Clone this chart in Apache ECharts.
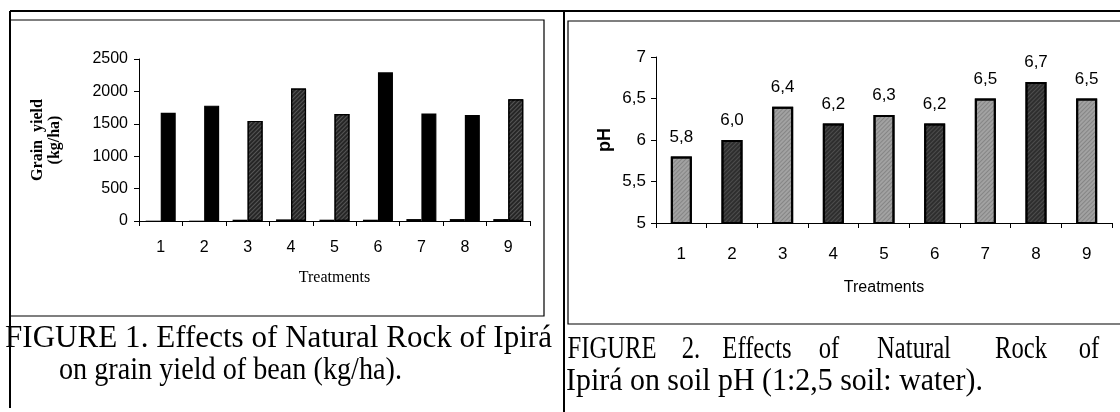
<!DOCTYPE html>
<html>
<head>
<meta charset="utf-8">
<script src="https://cdn.jsdelivr.net/npm/echarts@6/dist/echarts.min.js"></script>
<style>
html, body { margin: 0; background: #fff; }
#main { width: 1120px; height: 412px; }
</style>
</head>
<body>
<div id="main"></div>
<script>
// data
const treatments = ['1', '2', '3', '4', '5', '6', '7', '8', '9'];
const yieldSmall = [5, 5, 20, 25, 20, 20, 30, 30, 30];
const grainYield = [1670, 1780, 1545, 2045, 1650, 2295, 1660, 1635, 1880];
const soilPH = [5.8, 6.0, 6.4, 6.2, 6.3, 6.2, 6.5, 6.7, 6.5];

const caption1 = ['FIGURE 1. Effects of Natural Rock of Ipirá', 'on grain yield of bean (kg/ha).'];
const caption2 = ['FIGURE 2. Effects of Natural Rock of', 'Ipirá on soil pH (1:2,5 soil: water).'];

const sans = '"Liberation Sans", Arial, sans-serif';
const serif = '"Liberation Serif", "Times New Roman", serif';
const capFont = '28px "Liberation Serif"';

// hatched look for the grey bars
function hatch(c) {
    return {
        symbol: 'rect',
        symbolSize: 1,
        dashArrayX: [1, 0],
        dashArrayY: [1, 2],
        rotation: -Math.PI / 4,
        color: c
    };
}

let yieldData = grainYield.map((v, i) => {
    let grey = [2, 3, 4, 8].indexOf(i) >= 0;
    return {
        value: v,
        itemStyle: grey ? { color: '#262626', decal: hatch('rgba(255,255,255,0.22)') } : { color: '#000' }
    };
});

let phData = soilPH.map((v, i) => {
    let light = i % 2 === 0;
    return {
        value: v,
        itemStyle: light ? { color: '#a2a2a2', decal: hatch('rgba(0,0,0,0.18)') } : { color: '#2e2e2e', decal: hatch('rgba(255,255,255,0.15)') }
    };
});

// fit caption text to the widths in the scan
let ctx = document.createElement('canvas').getContext('2d');
ctx.font = capFont;
let fit = (text, width) => width / ctx.measureText(text).width;

function capText(text, x, y, sx, align) {
    return {
        type: 'text',
        x: x,
        y: y,
        scaleX: sx,
        scaleY: 1.1,
        z: 10,
        style: { text: text, font: capFont, fill: '#000', verticalAlign: 'middle', align: align || 'left' }
    };
}

// the first line of figure 2 is justified: place word by word (centres)
let words2 = caption2[0].split(' ');
let wordCx = [612, 691, 757, 829, 914, 1021, 1089];
let wordScale = fit('FIGURE', 89);

let line = (x1, y1, x2, y2, w) => ({
    type: 'line', z: 20,
    shape: { x1: x1, y1: y1, x2: x2, y2: y2 },
    style: { stroke: '#000', lineWidth: w }
});

let graphic = [
    line(10, 11, 1120, 11, 2),
    line(10, 11, 10, 408, 2),
    line(564, 11, 564, 412, 2),
    { type: 'rect', z: 20, shape: { x: 10, y: 20, width: 534, height: 296 }, style: { fill: 'none', stroke: '#000', lineWidth: 1.2 } },
    { type: 'rect', z: 20, shape: { x: 568, y: 21, width: 560, height: 303 }, style: { fill: 'none', stroke: '#000', lineWidth: 1.2 } },
    capText(caption1[0], 5, 339, fit(caption1[0], 547)),
    capText(caption1[1], 59, 371, fit(caption1[1], 343)),
    capText(caption2[1], 566, 382, fit(caption2[1], 417))
];
words2.forEach((w, i) => graphic.push(capText(w, wordCx[i], 350, wordScale, 'center')));

let axisLine = { show: true, lineStyle: { color: '#000', width: 1 } };
let axisTick = { show: true, length: 5, lineStyle: { color: '#000' } };

let option = {
    animation: false,
    backgroundColor: '#fff',
    grid: [
        { left: 139, right: 590, top: 59, bottom: 191 },
        { left: 656, right: 8, top: 57, bottom: 189 }
    ],
    xAxis: [{
        gridIndex: 0,
        type: 'category',
        data: treatments,
        axisLine: axisLine,
        axisTick: axisTick,
        axisLabel: { color: '#000', fontSize: 16, fontFamily: sans, margin: 19 },
        name: 'Treatments',
        nameLocation: 'middle',
        nameGap: 49,
        nameTextStyle: { color: '#000', fontSize: 16, fontFamily: serif }
    }, {
        gridIndex: 1,
        type: 'category',
        data: treatments,
        axisLine: axisLine,
        axisTick: axisTick,
        axisLabel: { color: '#000', fontSize: 17, fontFamily: sans, margin: 23 },
        name: 'Treatments',
        nameLocation: 'middle',
        nameGap: 57,
        nameTextStyle: { color: '#000', fontSize: 16, fontFamily: sans }
    }],
    yAxis: [{
        gridIndex: 0,
        type: 'value',
        min: 0,
        max: 2500,
        interval: 500,
        splitLine: { show: false },
        axisLine: axisLine,
        axisTick: axisTick,
        axisLabel: { color: '#000', fontSize: 16, fontFamily: sans, margin: 11, formatter: v => String(v) },
        name: 'Grain  yield\n(kg/ha)',
        nameLocation: 'middle',
        nameGap: 76,
        nameTextStyle: { color: '#000', fontSize: 16, fontWeight: 'bold', fontFamily: serif, lineHeight: 17 }
    }, {
        gridIndex: 1,
        type: 'value',
        min: 5,
        max: 7,
        interval: 0.5,
        splitLine: { show: false },
        axisLine: axisLine,
        axisTick: axisTick,
        axisLabel: { color: '#000', fontSize: 17, fontFamily: sans, margin: 10, formatter: v => String(v).replace('.', ',') },
        name: 'pH',
        nameLocation: 'middle',
        nameGap: 42,
        nameTextStyle: { color: '#000', fontSize: 18, fontWeight: 'bold', fontFamily: sans }
    }],
    series: [{
        type: 'bar',
        xAxisIndex: 0,
        yAxisIndex: 0,
        data: yieldSmall,
        barWidth: 15,
        barGap: '0%',
        itemStyle: { color: '#000' }
    }, {
        type: 'bar',
        xAxisIndex: 0,
        yAxisIndex: 0,
        data: yieldData,
        barWidth: 15,
        barGap: '0%',
        itemStyle: { borderColor: '#000', borderWidth: 1.2 }
    }, {
        type: 'bar',
        xAxisIndex: 1,
        yAxisIndex: 1,
        data: phData,
        barWidth: 21,
        itemStyle: { borderColor: '#000', borderWidth: 2 },
        label: {
            show: true,
            position: 'top',
            distance: 11,
            color: '#000',
            fontSize: 17,
            fontFamily: sans,
            formatter: p => p.value.toFixed(1).replace('.', ',')
        }
    }],
    graphic: graphic
};

let chart = echarts.init(document.getElementById('main'));
chart.setOption(option);
</script>
</body>
</html>
